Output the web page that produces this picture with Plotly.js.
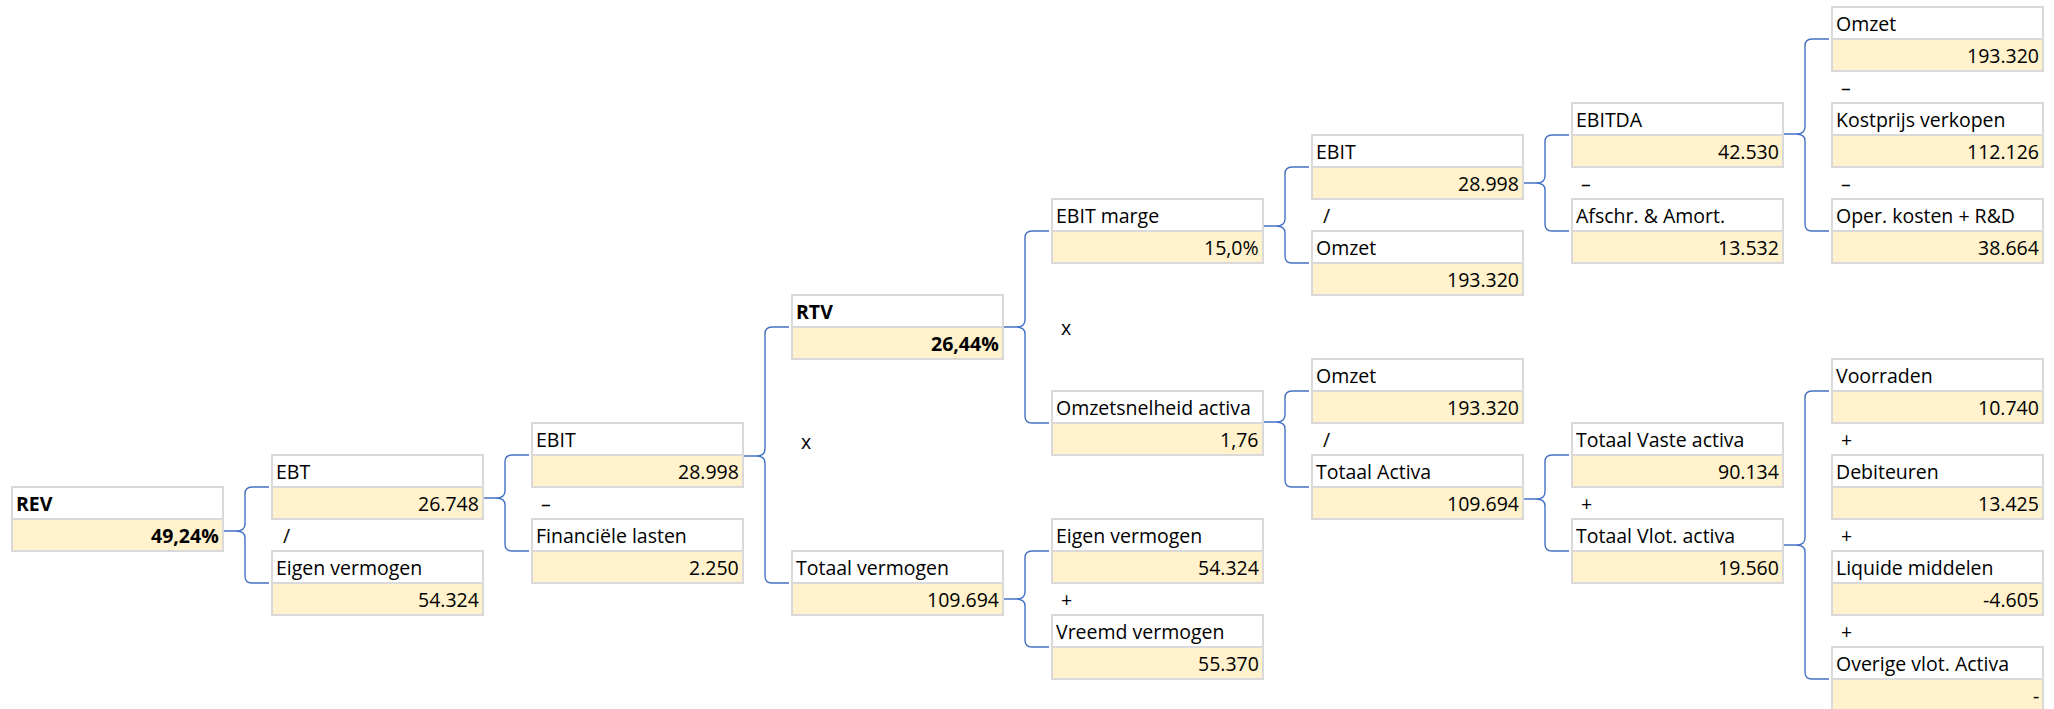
<!DOCTYPE html>
<html>
<head>
<meta charset="utf-8">
<script src="https://cdn.plot.ly/plotly-3.0.1.min.js"></script>
<style>html,body{margin:0;padding:0;background:#fff;}#chart{width:2054px;height:709px;}</style>
</head>
<body>
<div id="chart"></div>
<script>
// ---- DATA ----
const nodeLabels = ["REV","EBT","Eigen vermogen","EBIT","Financiële lasten","RTV","Totaal vermogen",
  "EBIT marge","Omzetsnelheid activa","Eigen vermogen","Vreemd vermogen","EBIT","Omzet","Omzet",
  "Totaal Activa","EBITDA","Afschr. & Amort.","Totaal Vaste activa","Totaal Vlot. activa","Omzet",
  "Kostprijs verkopen","Oper. kosten + R&D","Voorraden","Debiteuren","Liquide middelen","Overige vlot. Activa"];
const nodeValues = [0.4924, 26748, 54324, 28998, 2250, 0.2644, 109694,
  0.150, 1.76, 54324, 55370, 28998, 193320, 193320,
  109694, 42530, 13532, 90134, 19560, 193320,
  112126, 38664, 10740, 13425, -4605, null];
const nodeFormats = ["pct2","int","int","int","int","pct2","int",
  "pct1","dec2","int","int","int","int","int",
  "int","int","int","int","int","int",
  "int","int","int","int","int","int"];
const nodeParents = [-1,0,0,1,1,3,3,5,5,6,6,7,7,8,8,11,11,14,14,15,15,15,18,18,18,18];
const parentOperators = {0:"/",1:"–",3:"x",5:"x",6:"+",7:"/",8:"/",11:"–",14:"+",15:"–",18:"+"};

// ---- LAYOUT (positions / styles) ----
const nodeRows = [15,14,17,13,16,9,17,6,12,16,19,4,7,11,14,3,6,13,16,0,3,6,11,14,17,20];
const boldNodes = [0,5];
const braceTipY = {0:531,1:498,3:456,5:327,6:599,7:226,8:422,11:183,14:499,15:134,18:545};
const operatorYOverride = {3:441};
const GRID_TOP = 7, ROW_H = 32, COL_X0 = 12, COL_STEP = 260, BOX_W = 211;
const FONT = "'Open Sans', 'Noto Sans', sans-serif";
const FSIZE = 19.5;
const VALUE_FILL = "#fff2cc", BORDER = "#d9d9d9", LINK = "#4472c4";

function fmtInt(v){
  const s = Math.abs(Math.round(v)).toString().replace(/\B(?=(\d{3})+(?!\d))/g, ".");
  return (v < 0 ? "-" : "") + s;
}
function fmt(v, f){
  if (v === null || v === undefined || v === 0) return "-";
  if (f === "pct2") return (v*100).toFixed(2).replace(".", ",") + "%";
  if (f === "pct1") return (v*100).toFixed(1).replace(".", ",") + "%";
  if (f === "dec2") return v.toFixed(2).replace(".", ",");
  return fmtInt(v);
}
function depth(i){ let d = 0; while (nodeParents[i] >= 0){ i = nodeParents[i]; d++; } return d; }

const shapes = [], annotations = [];
const n = nodeLabels.length;
const X0 = [], TOP = [];
for (let i = 0; i < n; i++){ X0.push(COL_X0 + COL_STEP*depth(i)); TOP.push(GRID_TOP + ROW_H*nodeRows[i]); }

// braces (drawn first so boxes overlay)
const children = {};
for (let i = 0; i < n; i++){ const p = nodeParents[i]; if (p >= 0){ (children[p] = children[p] || []).push(i); } }
Object.keys(children).forEach(k => {
  const p = +k, ch = children[p];
  const px = X0[p] + BOX_W, cx = X0[ch[0]] - 3, bx = px + 22;
  const yT = TOP[ch[0]] + ROW_H, yB = TOP[ch[ch.length-1]] + ROW_H, t = braceTipY[p];
  const r = 7;
  const path = `M ${cx} ${yT} L ${bx+r} ${yT} Q ${bx} ${yT} ${bx} ${yT+r} L ${bx} ${t-r} Q ${bx} ${t} ${bx-9} ${t} L ${px} ${t} ` +
               `M ${bx-9} ${t} Q ${bx} ${t} ${bx} ${t+r} L ${bx} ${yB-r} Q ${bx} ${yB} ${bx+r} ${yB} L ${cx} ${yB}`;
  shapes.push({type:"path", xref:"x", yref:"y", path:path, line:{color:LINK, width:1.4}, layer:"above"});
  // operators between consecutive children
  for (let j = 0; j < ch.length-1; j++){
    let oy = (TOP[ch[j]] + 2*ROW_H + TOP[ch[j+1]]) / 2;
    if (operatorYOverride[p] !== undefined) oy = operatorYOverride[p];
    annotations.push({x: X0[ch[j]] + 14, y: oy, xref:"x", yref:"y", text: parentOperators[p], showarrow:false,
      xanchor:"center", yanchor:"middle", font:{family:FONT, size:FSIZE, color:"#000"}});
  }
});

// boxes and text
for (let i = 0; i < n; i++){
  const x0 = X0[i], x1 = X0[i] + BOX_W, t = TOP[i];
  shapes.push({type:"rect", xref:"x", yref:"y", x0:x0, x1:x1, y0:t, y1:t+ROW_H, fillcolor:"#ffffff", line:{color:BORDER, width:2}, layer:"above"});
  shapes.push({type:"rect", xref:"x", yref:"y", x0:x0, x1:x1, y0:t+ROW_H, y1:t+2*ROW_H, fillcolor:VALUE_FILL, line:{color:BORDER, width:2}, layer:"above"});
  const bold = boldNodes.indexOf(i) >= 0;
  annotations.push({x: x0 + 2, y: t + ROW_H/2, xref:"x", yref:"y", text: nodeLabels[i], showarrow:false,
    xanchor:"left", yanchor:"middle", font:{family:FONT, size:FSIZE, color:"#000", weight: bold ? 700 : 400}});
  annotations.push({x: x1 - 2, y: t + 1.5*ROW_H, xref:"x", yref:"y", text: fmt(nodeValues[i], nodeFormats[i]), showarrow:false,
    xanchor:"right", yanchor:"middle", font:{family:FONT, size:FSIZE, color:"#000", weight: bold ? 700 : 400}});
}

const data = [{type:"scatter", mode:"markers", x: X0, y: TOP, marker:{opacity:0, size:1}, hoverinfo:"skip", showlegend:false}];
const layout = {
  width:2054, height:709, margin:{l:0,r:0,t:0,b:0},
  paper_bgcolor:"#ffffff", plot_bgcolor:"#ffffff", showlegend:false,
  xaxis:{range:[0,2054], visible:false, fixedrange:true},
  yaxis:{range:[709,0], visible:false, fixedrange:true},
  shapes: shapes, annotations: annotations
};
Plotly.newPlot("chart", data, layout, {displayModeBar:false, staticPlot:true});
</script>
</body>
</html>
